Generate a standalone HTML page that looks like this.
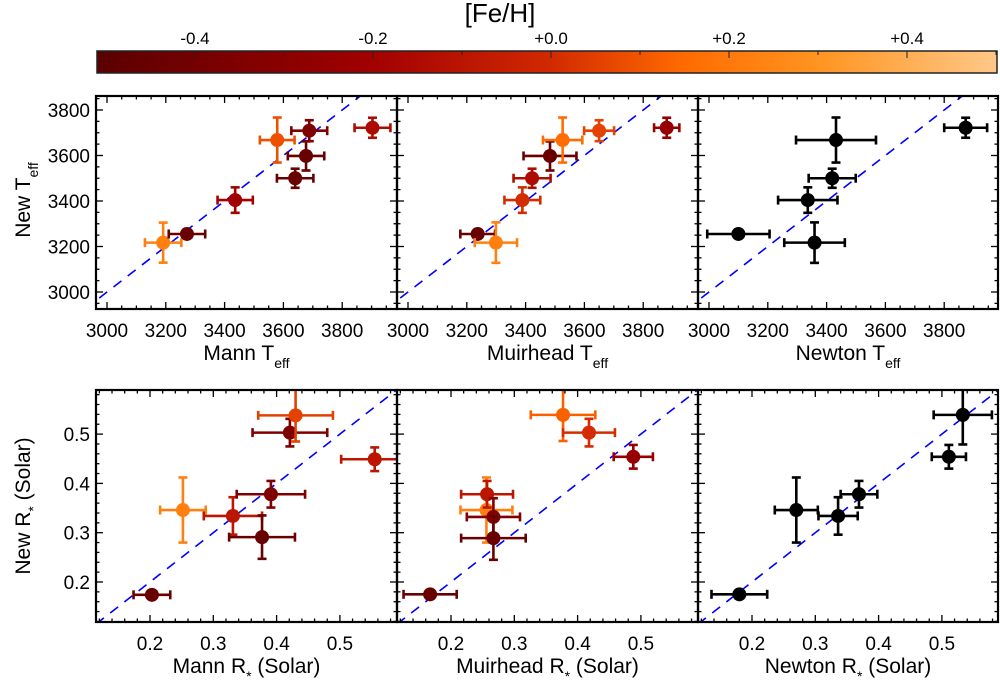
<!DOCTYPE html>
<html><head><meta charset="utf-8">
<style>
html,body{margin:0;padding:0;background:#fff;}
svg{display:block;font-family:"Liberation Sans",sans-serif;}
</style></head>
<body>
<svg id="fig" width="1000" height="684" viewBox="0 0 1000 684">
<defs>
<linearGradient id="cmap" x1="0" x2="1" y1="0" y2="0">
<stop offset="0" stop-color="#5a0000"/>
<stop offset="0.3" stop-color="#a00000"/>
<stop offset="0.5" stop-color="#d02800"/>
<stop offset="0.65" stop-color="#ff6a00"/>
<stop offset="0.8" stop-color="#ff9420"/>
<stop offset="1" stop-color="#ffc888"/>
</linearGradient>
</defs>
</svg>
<script>
// ---- data ----
const newTeff = [3217,3255,3404,3500,3598,3709,3668,3722];
const mannTeff = [3191,3272,3436,3640,3677,3688,3579,3903];
const mannTeffErr = [62,62,60,62,62,61,59,61];
const newTeffErr = [88,10,56,42,64,46,99,44];
const mannTeffFeh = [0.22,-0.45,-0.2,-0.45,-0.45,-0.35,0.08,-0.15];

const muirNewTeff = [3255,3217,3404,3500,3598,3668,3709,3722];
const muirTeff = [3237,3299,3389,3422,3483,3526,3650,3880];
const muirTeffErr = [59,72,61,63,90,67,51,43];
const muirNewTeffErr = [10,89,56,42,64,99,46,44];
const muirTeffFeh = [-0.45,0.22,0.0,-0.15,-0.45,0.15,0.05,-0.25];

const newtNewTeff = [3255,3217,3404,3500,3668,3722];
const newtTeff = [3100,3359,3336,3419,3432,3873];
const newtTeffErr = [106,103,101,80,136,73];
const newtNewTeffErr = [10,89,56,42,99,44];

const newR = [0.174,0.346,0.334,0.291,0.378,0.503,0.538,0.449];
const mannR = [0.203,0.252,0.331,0.377,0.391,0.421,0.430,0.555];
const mannRErr = [0.029,0.036,0.046,0.052,0.054,0.059,0.059,0.053];
const newRErr = [0.005,0.066,0.038,0.044,0.027,0.028,0.053,0.024];
const mannRFeh = [-0.45,0.22,-0.1,-0.45,-0.35,-0.35,0.05,-0.1];

const muirNewR = [0.175,0.346,0.378,0.332,0.289,0.539,0.503,0.454];
const muirR = [0.167,0.256,0.257,0.267,0.267,0.377,0.418,0.488];
const muirRErr = [0.042,0.041,0.041,0.042,0.051,0.051,0.041,0.031];
const muirNewRErr = [0.005,0.066,0.027,0.038,0.044,0.053,0.028,0.024];
const muirRFeh = [-0.45,0.22,-0.1,-0.35,-0.45,0.12,0.0,-0.25];

const newtNewR = [0.175,0.346,0.334,0.378,0.454,0.539];
const newtR = [0.180,0.270,0.336,0.369,0.511,0.533];
const newtRErr = [0.044,0.034,0.031,0.029,0.027,0.046];
const newtNewRErr = [0.005,0.066,0.038,0.027,0.024,0.06];

const tempTicks = [3000,3200,3400,3600,3800];
const radTicks = [0.2,0.3,0.4,0.5];
const cbTicks = [-0.4,-0.2,0.0,0.2,0.4];
const cbTickLabels = ["-0.4","-0.2","+0.0","+0.2","+0.4"];

// ---- helpers ----
const svg = document.getElementById('fig');
const NS = 'http://www.w3.org/2000/svg';
function mk(tag, attrs, parent){
  const e = document.createElementNS(NS, tag);
  for (const k in attrs) e.setAttribute(k, attrs[k]);
  (parent||svg).appendChild(e);
  return e;
}
const stops = [[-0.51,[90,0,0]],[-0.21,[160,0,0]],[-0.01,[208,40,0]],[0.14,[255,106,0]],[0.29,[255,148,32]],[0.5,[255,200,136]]];
function cmap(v){
  for (let i=0;i<stops.length-1;i++){
    const a=stops[i], b=stops[i+1];
    if (v<=b[0]||i===stops.length-2){
      let t=(v-a[0])/(b[0]-a[0]); t=Math.max(0,Math.min(1,t));
      const c=a[1].map((x,j)=>Math.round(x+(b[1][j]-x)*t));
      return 'rgb('+c.join(',')+')';
    }
  }
}

const cols = [[96,397],[397,698],[698,998]];
const rows = {t:[96,309], b:[390,622]};
function sxT(c,v){return cols[c][0]+11+(v-3000)*0.294;}
function syT(v){return 110+(3800-v)*0.2275;}
function sxR(c,v){return cols[c][0]+54+(v-0.2)*633;}
function syR(v){return 582-(v-0.2)*493;}
function invxT(c,p){return 3000+(p-cols[c][0]-11)/0.294;}
function invyT(p){return 3800-(p-110)/0.2275;}
function invxR(c,p){return 0.2+(p-cols[c][0]-54)/633;}
function invyR(p){return 0.2+(582-p)/493;}

// ---- colorbar ----
const cb = mk('g',{});


mk('rect',{x:97,y:51,width:900,height:22,fill:'url(#cmap)',stroke:'#222','stroke-width':1.5},cb);
function cbx(v){return 106+(v+0.5)*890;}
for (let v=-0.5; v<=0.501; v+=0.1){
  const x=cbx(v);
  if (x<98||x>996) continue;
  const major = Math.abs(Math.round(v*10))%2===0;
  mk('line',{x1:x,x2:x,y1:51,y2:major?58:55,stroke:'#222','stroke-width':1},cb);
}
cbTicks.forEach((v,i)=>{
  const t=mk('text',{x:cbx(v),y:44,'font-size':17,'text-anchor':'middle',fill:'#000'},cb);
  t.textContent=cbTickLabels[i];
  
  
});
const cbt=mk('text',{x:500,y:22,'font-size':26,'text-anchor':'middle',fill:'#000'},cb);
cbt.textContent='[Fe/H]';



// ---- panels ----
function panel(c,row,name,xs,ys,xe,ye,feh,isT,xTitle){
  const [y0,y1]=rows[row];
  const [x0,x1]=cols[c];
  const g=mk('g',{});
  
  
  const clipId='clip'+c+row;
  const cp=mk('clipPath',{id:clipId},g);
  mk('rect',{x:x0,y:y0,width:x1-x0,height:y1-y0},cp);
  const sx=isT?(v=>sxT(c,v)):(v=>sxR(c,v));
  const sy=isT?syT:syR;
  const ix=isT?(p=>invxT(c,p)):(p=>invxR(c,p));
  const iy=isT?invyT:invyR;
  const lo=Math.min(ix(x0),iy(y1)), hi=Math.max(ix(x1),iy(y0));
  const dl=mk('line',{x1:sx(lo),y1:sy(lo),x2:sx(hi),y2:sy(hi),stroke:'#0000ff','stroke-width':1.6,'stroke-dasharray':'10,8','clip-path':'url(#'+clipId+')'},g);
  
  
  const pg=mk('g',{'clip-path':'url(#'+clipId+')'},g);
  xs.forEach((xv,i)=>{
    const col=feh?cmap(feh[i]):'#000';
    const px=sx(xv), py=sy(ys[i]);
    const xa=sx(xv-xe[i]), xb=sx(xv+xe[i]);
    const ya=sy(ys[i]-ye[i]), yb=sy(ys[i]+ye[i]);
    const pt=mk('g',{stroke:col,'stroke-width':2.6,fill:col},pg);
    
    
    mk('line',{x1:xa,x2:xb,y1:py,y2:py},pt);
    mk('line',{x1:xa,x2:xa,y1:py-4.5,y2:py+4.5},pt);
    mk('line',{x1:xb,x2:xb,y1:py-4.5,y2:py+4.5},pt);
    mk('line',{x1:px,x2:px,y1:ya,y2:yb},pt);
    mk('line',{x1:px-4.5,x2:px+4.5,y1:ya,y2:ya},pt);
    mk('line',{x1:px-4.5,x2:px+4.5,y1:yb,y2:yb},pt);
    mk('circle',{cx:px,cy:py,r:7,stroke:'none'},pt);
  });
  const tg=mk('g',{stroke:'#000','stroke-width':1.3},g);
  const xMin=ix(x0), xMax=ix(x1), yMin=iy(y1), yMax=iy(y0);
  const minor=isT?50:0.02, majorEvery=isT?4:5;
  const majorLen=7, minorLen=3.5;
  for (let k=Math.ceil(xMin/minor); k*minor<=xMax; k++){
    const x=sx(k*minor); const L=(k%majorEvery===0)?majorLen:minorLen;
    mk('line',{x1:x,x2:x,y1:y1,y2:y1-L},tg);
    mk('line',{x1:x,x2:x,y1:y0,y2:y0+L},tg);
  }
  for (let k=Math.ceil(yMin/minor); k*minor<=yMax; k++){
    const y=sy(k*minor); const L=(k%majorEvery===0)?majorLen:minorLen;
    mk('line',{x1:x0,x2:x0+L,y1:y,y2:y},tg);
    mk('line',{x1:x1,x2:x1-L,y1:y,y2:y},tg);
  }
  const fr=mk('rect',{x:x0,y:y0,width:x1-x0,height:y1-y0,fill:'none',stroke:'#000','stroke-width':2.2},g);
  
  
  const ticks=isT?tempTicks:radTicks;
  ticks.forEach(v=>{
    const t=mk('text',{x:sx(v),y:y1+28,'font-size':19,'text-anchor':'middle',fill:'#000'},g);
    t.textContent=isT?String(v):v.toFixed(1);
    
    
    if (c===0){
      const ty=mk('text',{x:x0-6,y:sy(v)+7,'font-size':19,'text-anchor':'end',fill:'#000'},g);
      ty.textContent=isT?String(v):v.toFixed(1);
      
      
    }
  });
  const xt=mk('text',{x:(x0+x1)/2,y:y1+51,'font-size':21,'text-anchor':'middle',fill:'#000'},g);
  
  
  const a=mk('tspan',{},xt); a.textContent=xTitle[0];
  const b=mk('tspan',{'font-size':14,dy:8},xt); b.textContent=xTitle[1];
  if (xTitle[2]){const cc=mk('tspan',{dy:-8},xt); cc.textContent=xTitle[2];}
}

panel(0,'t','panel-mann-teff',mannTeff,newTeff,mannTeffErr,newTeffErr,mannTeffFeh,true,['Mann T','eff']);
panel(1,'t','panel-muirhead-teff',muirTeff,muirNewTeff,muirTeffErr,muirNewTeffErr,muirTeffFeh,true,['Muirhead T','eff']);
panel(2,'t','panel-newton-teff',newtTeff,newtNewTeff,newtTeffErr,newtNewTeffErr,null,true,['Newton T','eff']);
panel(0,'b','panel-mann-radius',mannR,newR,mannRErr,newRErr,mannRFeh,false,['Mann R','*',' (Solar)']);
panel(1,'b','panel-muirhead-radius',muirR,muirNewR,muirRErr,muirNewRErr,muirRFeh,false,['Muirhead R','*',' (Solar)']);
panel(2,'b','panel-newton-radius',newtR,newtNewR,newtRErr,newtNewRErr,null,false,['Newton R','*',' (Solar)']);

function ytitle(cy,main,sub,rest,name){
  const t=mk('text',{x:0,y:0,'font-size':21,'text-anchor':'middle',fill:'#000',transform:'translate(30,'+cy+') rotate(-90)'});
  
  
  const a=mk('tspan',{},t); a.textContent=main;
  const b=mk('tspan',{'font-size':14,dy:8},t); b.textContent=sub;
  if (rest){const c=mk('tspan',{dy:-8},t); c.textContent=rest;}
}
ytitle(200,'New T','eff',null,'y-axis-title-teff');
ytitle(506,'New R','*',' (Solar)','y-axis-title-radius');
</script>
</body></html>
